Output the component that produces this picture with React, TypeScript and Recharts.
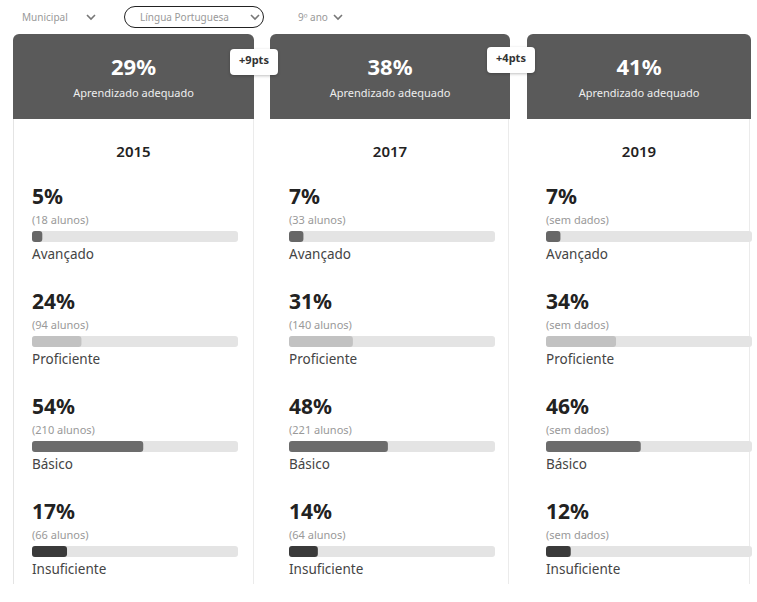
import React from 'react';
import { BarChart, Bar, XAxis, YAxis } from 'recharts';

const years = ['2015', '2017', '2019'];
const adequate = [29, 38, 41];
const gains = ['+9pts', '+4pts'];
const levels = ['Avançado', 'Proficiente', 'Básico', 'Insuficiente'];
const levelColors = ['#676767', '#c2c2c2', '#6c6c6c', '#3a3a3a'];

const pct2015 = [5, 24, 54, 17];
const pct2017 = [7, 31, 48, 14];
const pct2019 = [7, 34, 46, 12];
const students2015 = ['(18 alunos)', '(94 alunos)', '(210 alunos)', '(66 alunos)'];
const students2017 = ['(33 alunos)', '(140 alunos)', '(221 alunos)', '(64 alunos)'];
const students2019 = ['(sem dados)', '(sem dados)', '(sem dados)', '(sem dados)'];

const pctByYear = [pct2015, pct2017, pct2019];
const studentsByYear = [students2015, students2017, students2019];

const cardLeft = [13, 270, 527];
const cardWidth = [241, 240, 224];
const badgeLeft = [230, 487];
const badgeTop = [49, 47];

const FONT = '"Noto Sans", sans-serif';

function Chevron({ x, y }: { x: number; y: number }) {
  return (
    <svg width={10} height={7} style={{ position: 'absolute', left: x, top: y }}>
      <path d="M1 1 L5 5 L9 1" fill="none" stroke="#777" strokeWidth={1.6} />
    </svg>
  );
}

function LevelBar({ value, color }: { value: number; color: string }) {
  const data = [{ name: 'v', value }];
  return (
    <BarChart width={206} height={12} data={data} layout="vertical" margin={{ top: 0, right: 0, bottom: 0, left: 0 }}>
      <XAxis type="number" domain={[0, 100]} hide />
      <YAxis type="category" dataKey="name" hide />
      <Bar
        dataKey="value"
        fill={color}
        barSize={11}
        radius={3}
        background={{ fill: '#e4e4e4', radius: 3 }}
        isAnimationActive={false}
      />
    </BarChart>
  );
}

function YearCard({ idx }: { idx: number }) {
  const left = cardLeft[idx];
  const w = cardWidth[idx];
  return (
    <div style={{ position: 'absolute', left, top: 34, width: w, height: 552 }}>
      <div
        style={{
          position: 'absolute', left: 0, top: 0, width: w, height: 85,
          background: '#5a5a5a', borderRadius: '6px 6px 0 0', color: '#fff', textAlign: 'center',
        }}
      >
        <div style={{ position: 'absolute', top: 19, width: '100%', fontSize: 22, fontWeight: 700, lineHeight: '27px' }}>
          {adequate[idx]}%
        </div>
        <div style={{ position: 'absolute', top: 51, width: '100%', fontSize: 11, lineHeight: '16px', color: '#eee' }}>
          Aprendizado adequado
        </div>
      </div>
      <div
        style={{
          position: 'absolute', left: 0, top: 85, width: w - 2, height: 465,
          borderLeft: idx === 0 ? '1px solid #e4e4e4' : 'none', borderRight: '1px solid #ebebeb',
        }}
      />
      <div style={{ position: 'absolute', top: 107, width: w, textAlign: 'center', fontSize: 15, fontWeight: 600, color: '#222', lineHeight: '20px' }}>
        {years[idx]}
      </div>
      {levels.map((lvl, i) => {
        const top = 149 + i * 105;
        return (
          <div key={lvl} style={{ position: 'absolute', left: 19, top, width: 206 }}>
            <div style={{ fontSize: 21, fontWeight: 700, color: '#222', lineHeight: '26px' }}>{pctByYear[idx][i]}%</div>
            <div style={{ fontSize: 11, color: '#999', lineHeight: '14px', marginTop: 4 }}>{studentsByYear[idx][i]}</div>
            <div style={{ marginTop: 3, height: 12 }}>
              <LevelBar value={pctByYear[idx][i]} color={levelColors[i]} />
            </div>
            <div style={{ fontSize: 13.5, color: '#444', lineHeight: '18px', marginTop: 3 }}>{lvl}</div>
          </div>
        );
      })}
    </div>
  );
}

export default function App() {
  return (
    <div style={{ position: 'fixed', left: 0, top: 0, width: 757, height: 602, background: '#fff', fontFamily: FONT, overflow: 'hidden' }}>
      <div style={{ position: 'absolute', left: 22, top: 10, fontSize: 10, color: '#999' }}>Municipal</div>
      <Chevron x={86} y={14} />
      <div
        style={{
          position: 'absolute', left: 124, top: 6, width: 138, height: 20,
          border: '1.5px solid #222', borderRadius: 12,
        }}
      />
      <div style={{ position: 'absolute', left: 140, top: 10, fontSize: 10, color: '#999' }}>Língua Portuguesa</div>
      <Chevron x={250} y={14} />
      <div style={{ position: 'absolute', left: 298, top: 10, fontSize: 10, color: '#999' }}>9º ano</div>
      <Chevron x={333} y={14} />

      {years.map((_, i) => <YearCard key={i} idx={i} />)}

      {gains.map((g, i) => (
        <div
          key={g}
          style={{
            position: 'absolute', left: badgeLeft[i], top: badgeTop[i], width: 48, height: 26,
            background: '#fff', borderRadius: 4, boxShadow: '0 1px 3px rgba(0,0,0,0.25)',
            fontSize: 11, fontWeight: 700, color: '#333', textAlign: 'center', lineHeight: '22px',
          }}
        >
          {g}
        </div>
      ))}
    </div>
  );
}
